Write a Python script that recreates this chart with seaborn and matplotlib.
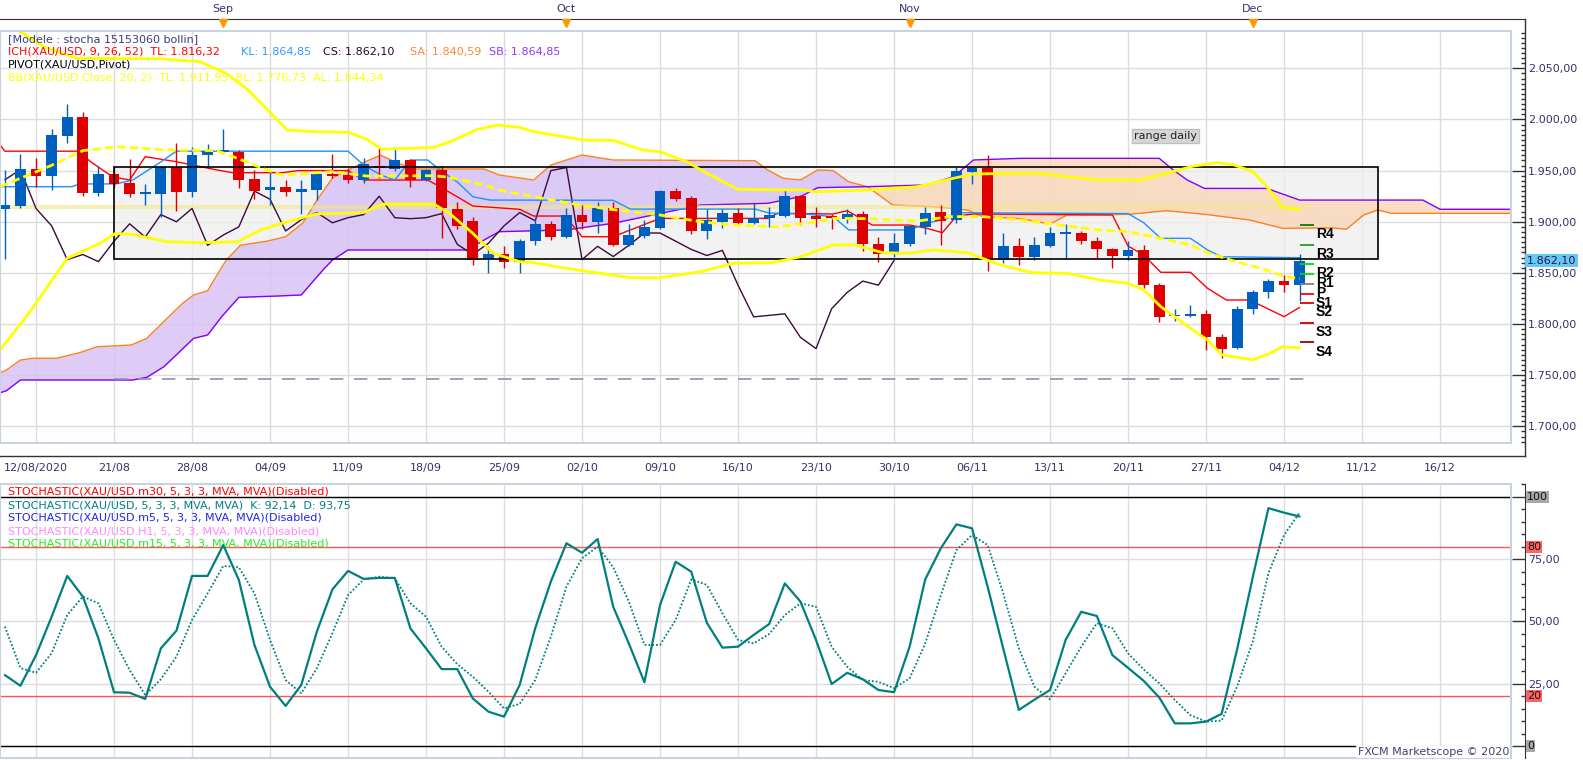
"""
XAU/USD daily chart: candles, Ichimoku cloud, Bollinger bands, pivots and a stochastic panel
"""

import numpy as np
import pandas as pd
import matplotlib
matplotlib.use("Agg")
import matplotlib.pyplot as plt
import seaborn as sns
from matplotlib.patches import Rectangle
from matplotlib.ticker import FixedLocator, MultipleLocator, FuncFormatter

# ---- candles (index 0 = 12/08/2020, one bar per trading day) ----
OPEN = [1912, 1915, 1952, 1945, 1984, 2002, 1928, 1947, 1938, 1927,
        1927, 1954, 1929, 1965, 1968, 1968, 1942, 1931, 1934, 1929,
        1931, 1947, 1946, 1941, 1955, 1952, 1960, 1941, 1951, 1912,
        1901, 1864, 1868, 1861, 1881, 1898, 1885, 1907, 1900, 1913,
        1877, 1886, 1894, 1930, 1923, 1891, 1900, 1909, 1899, 1904,
        1906, 1925, 1906, 1905, 1903, 1908, 1878, 1869, 1878, 1895,
        1910, 1902, 1949, 1953, 1863, 1876, 1866, 1876, 1888, 1889,
        1881, 1873, 1867, 1872, 1838, 1807.5, 1808, 1810, 1787, 1777,
        1815, 1831, 1842, 1838]
HIGH = [1951, 1966, 1962, 1991, 2015, 2007, 1955, 1955, 1961, 1937,
        1955, 1977, 1973, 1976, 1991, 1970, 1951, 1949, 1941, 1941,
        1949, 1966, 1953, 1962, 1972, 1973, 1961, 1952, 1955, 1919,
        1905, 1876, 1876, 1883, 1903, 1901, 1913, 1916, 1919, 1919,
        1898, 1902, 1931, 1933, 1925, 1912, 1912, 1913, 1918, 1914,
        1932, 1926, 1914, 1908, 1912, 1911, 1885, 1889, 1897, 1914,
        1916, 1954, 1954, 1965, 1889, 1884, 1885, 1895, 1898, 1891,
        1885, 1874, 1881, 1877, 1840, 1815, 1819, 1814, 1790, 1818,
        1833, 1844, 1848, 1868.5]
LOW = [1864, 1913, 1934, 1931, 1977, 1925, 1925, 1934, 1924, 1916,
       1905, 1911, 1924, 1955, 1966, 1933, 1922, 1916, 1925, 1908,
       1921, 1943, 1938, 1938, 1943, 1950, 1934, 1940, 1884, 1893,
       1858, 1850, 1855, 1850, 1877, 1882, 1884, 1893, 1889, 1876,
       1876, 1884, 1893, 1920, 1888, 1883, 1894, 1897, 1898, 1895,
       1905, 1897, 1895, 1893, 1899, 1871, 1861, 1866, 1876, 1888,
       1877, 1899, 1937, 1852, 1860, 1858, 1863, 1875, 1865, 1878,
       1865, 1855, 1863, 1835, 1802, 1803, 1807, 1775, 1767, 1776,
       1810, 1825, 1831, 1823]
CLOSE = [1916, 1952, 1945, 1985, 2002, 1928, 1947, 1937, 1927, 1928,
         1954, 1929, 1965, 1969, 1970, 1941, 1930, 1934, 1929, 1932,
         1947, 1945, 1941, 1956, 1953, 1960, 1941, 1951, 1913, 1896,
         1863, 1868, 1861, 1881, 1898, 1885, 1907, 1900, 1913, 1877,
         1887, 1895, 1930, 1922, 1891, 1902, 1909, 1899, 1904, 1907,
         1925, 1904, 1903, 1904, 1908, 1878, 1868, 1879, 1896, 1909,
         1901, 1950, 1953, 1863, 1876, 1866, 1877, 1889, 1889, 1881,
         1873, 1867, 1872, 1838, 1807, 1808.5, 1810, 1787, 1776, 1815,
         1831, 1842, 1838, 1862.1]

# ---- Ichimoku lines (bar index, price) ----
SA_X = [-0.3, 0.1, 1.0, 1.8, 3.3, 4.8, 5.9, 8.1, 9.1, 10.4, 11.4, 12.1, 13.0, 13.8, 14.2,
        15.1, 16.8, 18.0, 19.1, 20.0, 21.0, 22.0, 23.1, 24.1, 25.0, 26.1, 30.7, 31.7, 33.9,
        35.0, 37.0, 39.0, 48.1, 48.9, 49.9, 51.0, 52.1, 53.1, 54.1, 55.3, 56.9, 59.5, 61.7,
        62.7, 65.1, 67.0, 68.1, 72.0, 74.5, 77.1, 79.8, 81.9, 85.1, 86.0, 87.1, 88.0, 88.9, 96.6]
SA_Y = [1752.4, 1755, 1764.8, 1766.5, 1766.5, 1772, 1777.8, 1779.5, 1786, 1805.6, 1820.3,
        1828.4, 1832.6, 1853, 1862.6, 1877, 1881, 1885.4, 1898.7, 1921, 1942.7, 1950.6,
        1958.7, 1965, 1958.7, 1951.6, 1951.6, 1945.7, 1940.8, 1955.5, 1965.2, 1960.4, 1959.7,
        1950.6, 1942.5, 1940.8, 1950.6, 1950, 1939, 1934.3, 1916.4, 1914.7, 1911.5, 1905,
        1903, 1897.8, 1906.6, 1907.2, 1910.8, 1907, 1901.7, 1893.6, 1894, 1892.6, 1906.6,
        1911.5, 1908.2, 1908.2]
SB_X = [-0.3, 0.1, 1.0, 8.2, 9.1, 10.2, 12.1, 13.0, 13.9, 15.0, 17.5, 19.0, 20.4, 21.0, 22.0,
        29.6, 31.1, 31.7, 36.0, 39.0, 44.6, 48.9, 51.0, 52.1, 55.3, 59.1, 60.8, 62.1, 65.1,
        74.0, 74.9, 75.8, 76.9, 80.9, 83.0, 90.9, 92.0, 96.6]
SB_Y = [1732.8, 1734.8, 1745.3, 1745.3, 1747.9, 1758.3, 1786, 1789.3, 1807.2, 1826.1, 1827.4,
        1828.4, 1853, 1862.6, 1872.4, 1872.4, 1885.4, 1890.3, 1892, 1898.5, 1916.4, 1918,
        1924.5, 1933.3, 1934.3, 1936, 1944, 1960.4, 1962, 1962, 1950.6, 1940.8, 1932.6,
        1932.6, 1921.2, 1921.2, 1912.2, 1912.2]
TK_X = [-0.3, 0.0, 4.7, 5.5, 6.9, 8.0, 9.0, 11.0, 13.6, 14.6, 17.8, 18.8, 22.0, 23.0, 27.1,
        27.9, 30.0, 33.0, 33.9, 35.9, 37.0, 39.0, 42.0, 48.9, 49.5, 51.0, 53.1, 54.0, 55.6,
        58.0, 59.1, 60.1, 61.0, 62.1, 71.0, 72.0, 73.0, 74.1, 76.0, 77.1, 78.3, 79.8, 80.9,
        82.0, 83.0]
TK_Y = [1975, 1969, 1969, 1958.7, 1944, 1940.8, 1963.6, 1958.7, 1950.6, 1948, 1948, 1950,
        1950, 1940.8, 1940.8, 1934.3, 1915.4, 1912.2, 1905.6, 1905.6, 1885.4, 1885.4, 1903.3,
        1903.3, 1908, 1908, 1907.6, 1910.8, 1896.8, 1896.8, 1893.6, 1889.3, 1905.6, 1907.6,
        1906.6, 1876.3, 1867.5, 1850.6, 1850.6, 1834.9, 1823.5, 1823.5, 1815.4, 1807.2, 1816.3]
KJ_X = [-0.3, 4.3, 4.8, 7.1, 8.2, 9.8, 11.0, 22.0, 23.0, 24.1, 25.0, 26.0, 27.1, 27.9, 29.0,
        30.0, 31.1, 39.0, 40.1, 48.1, 49.0, 51.0, 53.1, 54.1, 58.0, 59.1, 60.4, 61.0, 72.0,
        73.0, 74.1, 76.0, 77.1, 78.0, 83.0]
KJ_Y = [1934.3, 1934.3, 1937, 1937, 1940.8, 1956.5, 1969, 1969, 1955.5, 1945.7, 1940.8,
        1960.4, 1960.4, 1950.6, 1939, 1924.5, 1921.2, 1921, 1912.4, 1912.4, 1908.5, 1908,
        1905, 1892, 1892, 1898.5, 1903, 1908.8, 1908, 1899.1, 1883.8, 1883.8, 1872.4,
        1865.8, 1864.85]

# ---- Bollinger bands (20, 2) ----
BU_X = [-0.3, 1.0, 2.5, 4.6, 10.0, 12.5, 14.2, 15.6, 18.1, 20.0, 22.0, 23.2, 24.2, 27.5, 28.5,
        30.3, 31.6, 33.0, 33.9, 37.1, 39.0, 40.9, 42.0, 43.7, 45.0, 47.0, 51.0, 52.1, 55.3,
        58.5, 60.8, 62.1, 65.1, 66.0, 68.1, 70.2, 72.8, 74.5, 76.2, 77.7, 78.7, 80.0, 80.9,
        81.9, 83.0]
BU_Y = [2095, 2085.8, 2071, 2059.8, 2059.4, 2056.5, 2045, 2028.8, 1989.7, 1988, 1987.5,
        1980.6, 1970.8, 1972.8, 1978, 1990.4, 1994.6, 1992.3, 1988, 1980, 1979.5, 1970.1,
        1968.5, 1958.7, 1947.4, 1931.7, 1931, 1929.4, 1931, 1934.3, 1942.5, 1946.7, 1947.4,
        1947.6, 1944, 1940.8, 1940.8, 1947.4, 1954.5, 1957.7, 1956, 1949, 1934.3, 1914, 1911.95]
BL_X = [-0.3, 1.7, 4.0, 6.1, 7.1, 8.2, 10.4, 12.5, 14.9, 16.4, 18.1, 20.0, 23.0, 24.2, 27.5,
        28.5, 30.0, 31.3, 33.0, 33.9, 36.0, 40.1, 42.0, 44.6, 46.7, 49.2, 51.0, 53.1, 54.4,
        56.3, 58.0, 59.5, 61.7, 63.8, 65.1, 65.9, 68.1, 70.2, 72.0, 73.0, 74.1, 76.0, 77.1,
        78.0, 80.0, 81.1, 81.9, 83.0]
BL_Y = [1774.6, 1813.7, 1864.3, 1879, 1888.7, 1887.5, 1880.5, 1879.5, 1880.5, 1892, 1900,
        1907.6, 1909, 1917.3, 1917.3, 1908.2, 1888.7, 1869.2, 1861, 1860, 1854.5, 1845.3,
        1845.3, 1851.2, 1859.4, 1860, 1865.8, 1877.3, 1877.6, 1869.7, 1869.3, 1872.4, 1869.7,
        1858, 1853, 1850.2, 1849.5, 1843, 1839.8, 1833.3, 1817, 1795.8, 1784.4, 1770, 1765,
        1771.4, 1777.8, 1776.73]
BM_X = [-0.3, 1.0, 2.9, 5.0, 7.2, 10.4, 13.6, 14.9, 16.8, 17.8, 21.0, 23.2, 27.5, 28.5, 30.7,
        31.7, 33.9, 37.1, 39.2, 42.0, 44.6, 46.7, 49.5, 52.1, 53.1, 55.3, 58.5, 60.6, 62.7,
        65.1, 65.9, 68.1, 70.2, 72.0, 74.1, 76.0, 77.1, 78.7, 80.9, 81.9, 83.0]
BM_Y = [1934.3, 1942.5, 1954.5, 1969.5, 1973.4, 1970.1, 1969.5, 1962, 1950.6, 1945.7, 1949,
        1944.7, 1945, 1943.5, 1935.9, 1931, 1924.5, 1915.7, 1911.5, 1906.6, 1900, 1896.8,
        1895.1, 1900, 1903.4, 1903, 1900.7, 1905, 1905, 1901.7, 1900, 1895.8, 1891.9, 1890.3,
        1883.8, 1877.3, 1869.7, 1862, 1852.8, 1847, 1844.34]

# ---- pivots and drawn objects ----
PIVOT_NAMES = ["R4", "R3", "R2", "R1", "P", "S1", "S2", "S3", "S4"]
PIVOT_VALUES = [1896.5, 1877, 1858.4, 1848.6, 1839.1, 1829.4, 1820.3, 1800.7, 1782]
RANGE_BOX = (7, 88, 1863.3, 1953.2)      # from bar, to bar, low, high
PIVOT_BAND = 1914
DASHED_LEVEL = 1746
LAST_PRICE = 1862.10

# ---- stochastic (5, 3, 3) ----
STOCH_K = [28.5, 24.2, 36.5, 51.9, 68.3, 60.0, 43.2, 21.6, 21.4, 18.9,
           39.2, 46.3, 68.3, 68.3, 80.7, 66.7, 40.6, 23.8, 16.1, 24.5,
           45.9, 62.9, 70.3, 67.1, 67.5, 67.5, 47.2, 39.2, 30.9, 30.9,
           19.1, 13.8, 11.8, 24.5, 47.3, 66.0, 81.4, 77.6, 83.1, 55.9,
           41.2, 25.6, 56.6, 74.0, 70.0, 49.5, 39.5, 39.9, 44.6, 49.0,
           65.3, 58.0, 42.6, 24.9, 29.4, 26.8, 22.5, 21.6, 39.9, 66.9,
           79.4, 89.0, 87.4, 64.0, 39.2, 14.5, 18.6, 22.5, 42.6, 53.9,
           52.2, 36.5, 31.4, 26.2, 19.5, 9.1, 9.1, 9.8, 12.9, 39.0,
           67.9, 95.5, 93.7, 92.14]
STOCH_D = [48.0, 31.3, 29.4, 37.3, 52.6, 60.0, 57.3, 42.6, 30.5, 20.5,
           26.8, 35.9, 50.6, 61.3, 72.3, 71.8, 61.3, 42.6, 26.5, 21.2,
           31.2, 45.3, 60.6, 66.9, 68.0, 67.3, 57.3, 51.9, 39.9, 32.9,
           27.8, 21.8, 15.1, 16.9, 26.5, 43.9, 64.0, 75.4, 80.0, 71.8,
           58.0, 40.6, 40.6, 50.6, 66.9, 64.7, 53.3, 42.6, 41.2, 45.0,
           52.6, 57.3, 55.9, 39.9, 31.8, 26.5, 25.8, 23.2, 27.2, 41.2,
           60.6, 78.7, 84.7, 80.7, 61.3, 39.2, 23.8, 18.8, 29.2, 39.9,
           49.3, 47.3, 37.2, 30.8, 25.2, 18.5, 12.4, 9.8, 10.2, 24.0,
           42.0, 69.4, 84.7, 93.75]

# ---- axis labels ----
WEEK_TICKS = [2, 7, 12, 17, 22, 27, 32, 37, 42, 47, 52, 57, 62, 67, 72, 77, 82, 87, 92]
WEEK_LABELS = ["12/08/2020", "21/08", "28/08", "04/09", "11/09", "18/09", "25/09", "02/10",
               "09/10", "16/10", "23/10", "30/10", "06/11", "13/11", "20/11", "27/11",
               "04/12", "11/12", "16/12"]
MONTH_TICKS = [14, 36, 58, 80]
MONTH_LABELS = ["Sep", "Oct", "Nov", "Dec"]

W, H = 1583, 760
PT = 0.72                      # points per pixel at 100 dpi
XMIN, XMAX = -0.31, 96.55
TEXT = "#33336b"
BLUE, RED = "#0060c0", "#dd0000"


def fx(x):
    return x / W


def fy(y):
    return 1 - y / H


def euro(v, pos=None):
    s = f"{v:,.2f}"
    return s.replace(",", " ").replace(".", ",").replace(" ", ".")


def line(ax, x, y, color, lw, z, **kw):
    sns.lineplot(x=x, y=y, ax=ax, color=color, linewidth=lw, zorder=z,
                 estimator=None, sort=False, legend=False, **kw)


def main():
    sns.set_style("white")
    plt.rcParams["font.family"] = ["DejaVu Sans"]

    fig = plt.figure(figsize=(W / 100, H / 100), dpi=100)
    ax = fig.add_axes([0, fy(443), fx(1511), (443 - 31) / H])
    low = fig.add_axes([0, fy(758), fx(1511), (758 - 484) / H])
    top = fig.add_axes([0, fy(19), fx(1525), 19 / H])

    df = pd.DataFrame({"o": OPEN, "h": HIGH, "l": LOW, "c": CLOSE})
    df["i"] = np.arange(len(df))

    # ---------------- main panel ----------------
    ax.set_xlim(XMIN, XMAX)
    ax.set_ylim(1683.7, 2086.5)

    # range box (grey overlay under the cloud, outline on top)
    x0, x1, y0, y1 = RANGE_BOX
    ax.add_patch(Rectangle((x0, y0), x1 - x0, y1 - y0, facecolor="#eeeeee", alpha=0.75,
                           edgecolor="none", zorder=0.9))
    ax.add_patch(Rectangle((x0, y0), x1 - x0, y1 - y0, facecolor="none",
                           edgecolor="black", lw=1.2, zorder=4.5))
    ax.text(74.4, 1983.8, "range daily", ha="center", va="center", fontsize=8, color="#222222",
            zorder=6, bbox=dict(boxstyle="square,pad=0.2", facecolor="#d6d6d6",
                                edgecolor="#c0c0c0"))

    # cloud
    grid = np.union1d(SA_X, SB_X)
    sa = np.interp(grid, SA_X, SA_Y)
    sb = np.interp(grid, SB_X, SB_Y)
    ax.fill_between(grid, sa, sb, where=sa >= sb, interpolate=True,
                    color="#d6c0f6", alpha=0.8, lw=0, zorder=1)
    ax.fill_between(grid, sa, sb, where=sa < sb, interpolate=True,
                    color="#f8d8bb", alpha=0.85, lw=0, zorder=1)

    line(ax, SA_X, SA_Y, "#ff7f1e", 1, 2)
    line(ax, SB_X, SB_Y, "#8000ff", 1, 2)

    ax.hlines(PIVOT_BAND, XMIN, 83.9, colors="#f2e88a", lw=3, alpha=0.6, zorder=2.2)
    ax.hlines(DASHED_LEVEL, 7, 83.9, colors="#9090b0", lw=1.2,
              linestyles=[(0, (8, 6.4))], zorder=2.2)

    # chikou = close shifted back 26 bars
    chikou = df[df.i >= 26]
    line(ax, chikou.i - 26, chikou.c, "#3c0a3c", 1, 3)
    line(ax, TK_X, TK_Y, "#ff0000", 1, 3)
    line(ax, KJ_X, KJ_Y, "#1e90ff", 1, 3)

    # candles
    colors = np.where(df.c >= df.o, BLUE, RED)
    ax.vlines(df.i, df.l, df.h, colors=colors, lw=1, zorder=4)
    body = (df.c - df.o).abs().clip(lower=1.8)
    ax.bar(df.i, body, bottom=df[["o", "c"]].min(axis=1), width=0.7,
           color=colors, linewidth=0, zorder=4.1)

    # bollinger
    line(ax, BU_X, BU_Y, "#ffff00", 2, 5)
    line(ax, BL_X, BL_Y, "#ffff00", 2, 5)
    line(ax, BM_X, BM_Y, "#ffff00", 2, 5, linestyle=(0, (3, 1.5)))

    # pivots
    piv_colors = ["#008000", "#20a020", "#00e000", "#00e000", "#808080",
                  "#ff0000", "#e00000", "#c00000", "#a00000"]
    for name, val, col in zip(PIVOT_NAMES, PIVOT_VALUES, piv_colors):
        ax.hlines(val, 83.0, 83.9, colors=col, lw=1.3, zorder=6)
        ax.annotate(name, xy=(84.05, val), xytext=(0, -1.5), textcoords="offset points",
                    ha="left", va="top", fontsize=10, fontweight="bold",
                    family="Liberation Sans", color="black", zorder=6)

    # axes styling
    ax.set_xlabel("")
    ax.set_ylabel("")
    for s in ["top", "left"]:
        ax.spines[s].set_visible(False)
    ax.spines["right"].set_position(("outward", 14 * PT))
    ax.spines["bottom"].set_position(("outward", 13 * PT))
    ax.spines["right"].set_bounds(1670.96, 2098.2)
    ax.spines["bottom"].set_bounds(XMIN, 97.45)
    for s in ["right", "bottom"]:
        ax.spines[s].set_color("#333333")
        ax.spines[s].set_linewidth(1)
    ax.yaxis.tick_right()
    ax.yaxis.set_major_locator(FixedLocator(np.arange(1700, 2051, 50)))
    ax.yaxis.set_minor_locator(MultipleLocator(5))
    ax.yaxis.set_major_formatter(FuncFormatter(euro))
    ax.tick_params(axis="y", which="major", direction="in", length=13 * PT, width=1,
                   pad=3 * PT, labelsize=8, labelcolor=TEXT, color="#333333")
    ax.tick_params(axis="y", which="minor", direction="in", length=4 * PT, width=1,
                   color="#333333")
    ax.set_xticks(WEEK_TICKS, WEEK_LABELS)
    ax.xaxis.set_minor_locator(FixedLocator(np.arange(2 - 3 * 0.625, 97.4, 0.625)))
    ax.tick_params(axis="x", which="major", direction="in", length=12 * PT, width=1,
                   pad=7 * PT, labelsize=8, labelcolor=TEXT, color="#333333")
    ax.tick_params(axis="x", which="minor", direction="in", length=4 * PT, width=1,
                   color="#333333")
    ax.grid(True, which="major", color="#dcdcdc", lw=1)
    ax.set_axisbelow(True)
    ax.add_patch(Rectangle((0, 0), 1, 1, transform=ax.transAxes, fill=False,
                           edgecolor="#c8d3df", lw=1.5, clip_on=False, zorder=7))

    ax.annotate(euro(LAST_PRICE), xy=(1, LAST_PRICE), xycoords=ax.get_yaxis_transform(),
                xytext=(16 * PT, 0), textcoords="offset points", ha="left", va="center",
                fontsize=8, color="#1a1a4a", annotation_clip=False, zorder=8,
                bbox=dict(boxstyle="square,pad=0.15", facecolor="#66c8f5", edgecolor="none"))

    # main legend
    fs = 8
    fig.text(fx(8), fy(39), "[Modele : stocha 15153060 bollin]", color="#3c3c80",
             fontsize=fs, va="center")
    for x, txt, col in [(8, "ICH(XAU/USD, 9, 26, 52)  TL: 1.816,32", "#ff0000"),
                        (241, "KL: 1.864,85", "#3399ff"),
                        (323, "CS: 1.862,10", "#330033"),
                        (410, "SA: 1.840,59", "#ff8833"),
                        (489, "SB: 1.864,85", "#9933ff")]:
        fig.text(fx(x), fy(52), txt, color=col, fontsize=fs, va="center")
    fig.text(fx(8), fy(64.5), "PIVOT(XAU/USD,Pivot)", color="black", fontsize=fs, va="center")
    fig.text(fx(8), fy(77), "BB(XAU/USD.Close, 20, 2)  TL: 1.911,95  BL: 1.776,73  AL: 1.844,34",
             color="#ffff00", fontsize=fs, va="center")

    # ---------------- top month strip ----------------
    top.set_xlim(XMIN, XMIN + 1525 / 15.6)
    top.set_ylim(0, 1)
    top.patch.set_alpha(0)
    for s in ["top", "left", "right"]:
        top.spines[s].set_visible(False)
    top.spines["bottom"].set_color("#333333")
    top.set_yticks([])
    top.set_xticks(np.arange(0.83, 97.4, 2.72))
    top.tick_params(axis="x", direction="out", length=4 * PT, color="#333333",
                    labelbottom=False)
    for idx, lab in zip(MONTH_TICKS, MONTH_LABELS):
        top.text(idx, 0.5, lab, ha="center", va="center", fontsize=8, color=TEXT)
    top.plot(MONTH_TICKS, [-0.21] * len(MONTH_TICKS), "v", color="#ff9900",
             ms=8 * PT, clip_on=False, zorder=8)

    # ---------------- stochastic panel ----------------
    low.set_xlim(XMIN, XMAX)
    low.set_ylim(-4.8, 105.2)
    line(low, df.i, STOCH_K, "#007f7f", 1.6, 4)
    line(low, df.i, STOCH_D, "#008080", 1.3, 4, linestyle=(0, (1, 1.1)))
    low.set_xlabel("")
    low.set_ylabel("")
    low.axhline(100, color="black", lw=1, zorder=3)
    low.axhline(0, xmax=1355 / 1511, color="black", lw=1, zorder=3)
    low.axhline(80, color="#ff5555", lw=1, zorder=3)
    low.axhline(20, color="#ff5555", lw=1, zorder=3)

    for s in ["top", "left", "bottom"]:
        low.spines[s].set_visible(False)
    low.spines["right"].set_position(("outward", 14 * PT))
    low.spines["right"].set_color("#333333")
    low.yaxis.tick_right()
    low.set_yticks([0, 25, 50, 75, 100], ["", "25,00", "50,00", "75,00", ""])
    low.yaxis.set_minor_locator(MultipleLocator(5))
    low.tick_params(axis="y", which="major", direction="in", length=13 * PT, width=1,
                    pad=3 * PT, labelsize=8, labelcolor=TEXT, color="#333333")
    low.tick_params(axis="y", which="minor", direction="in", length=4 * PT, width=1,
                    color="#333333")
    low.set_xticks(WEEK_TICKS)
    low.tick_params(axis="x", length=0, labelbottom=False)
    low.grid(True, which="major", color="#dcdcdc", lw=1)
    low.set_axisbelow(True)
    low.add_patch(Rectangle((0, 0), 1, 1, transform=low.transAxes, fill=False,
                            edgecolor="#c8d3df", lw=1.5, clip_on=False, zorder=7))

    for v, col in [(100, "#a8a8a8"), (80, "#ff6464"), (20, "#ff6464"), (0, "#a8a8a8")]:
        low.annotate(str(v), xy=(1, v), xycoords=low.get_yaxis_transform(),
                     xytext=(16 * PT, 0), textcoords="offset points", ha="left", va="center",
                     fontsize=8, color="#111111", annotation_clip=False, zorder=8,
                     bbox=dict(boxstyle="square,pad=0.1", facecolor=col, edgecolor="none"))

    for y, txt, col in [(492, "STOCHASTIC(XAU/USD.m30, 5, 3, 3, MVA, MVA)(Disabled)", "#ff0000"),
                        (505, "STOCHASTIC(XAU/USD, 5, 3, 3, MVA, MVA)  K: 92,14  D: 93,75", "#008080"),
                        (518, "STOCHASTIC(XAU/USD.m5, 5, 3, 3, MVA, MVA)(Disabled)", "#2222ee"),
                        (531, "STOCHASTIC(XAU/USD.H1, 5, 3, 3, MVA, MVA)(Disabled)", "#ff88ff"),
                        (544, "STOCHASTIC(XAU/USD.m15, 5, 3, 3, MVA, MVA)(Disabled)", "#22ee22")]:
        fig.text(fx(8), fy(y), txt, color=col, fontsize=fs, va="center", zorder=9)

    fig.text(fx(1509), fy(752), "FXCM Marketscope \u00a9 2020", ha="right", va="center",
             fontsize=8, color="#404078", zorder=9,
             bbox=dict(boxstyle="square,pad=0.1", facecolor="white", edgecolor="none"))

    fig.savefig("out.png", dpi=100, facecolor="white")


if __name__ == "__main__":
    main()
